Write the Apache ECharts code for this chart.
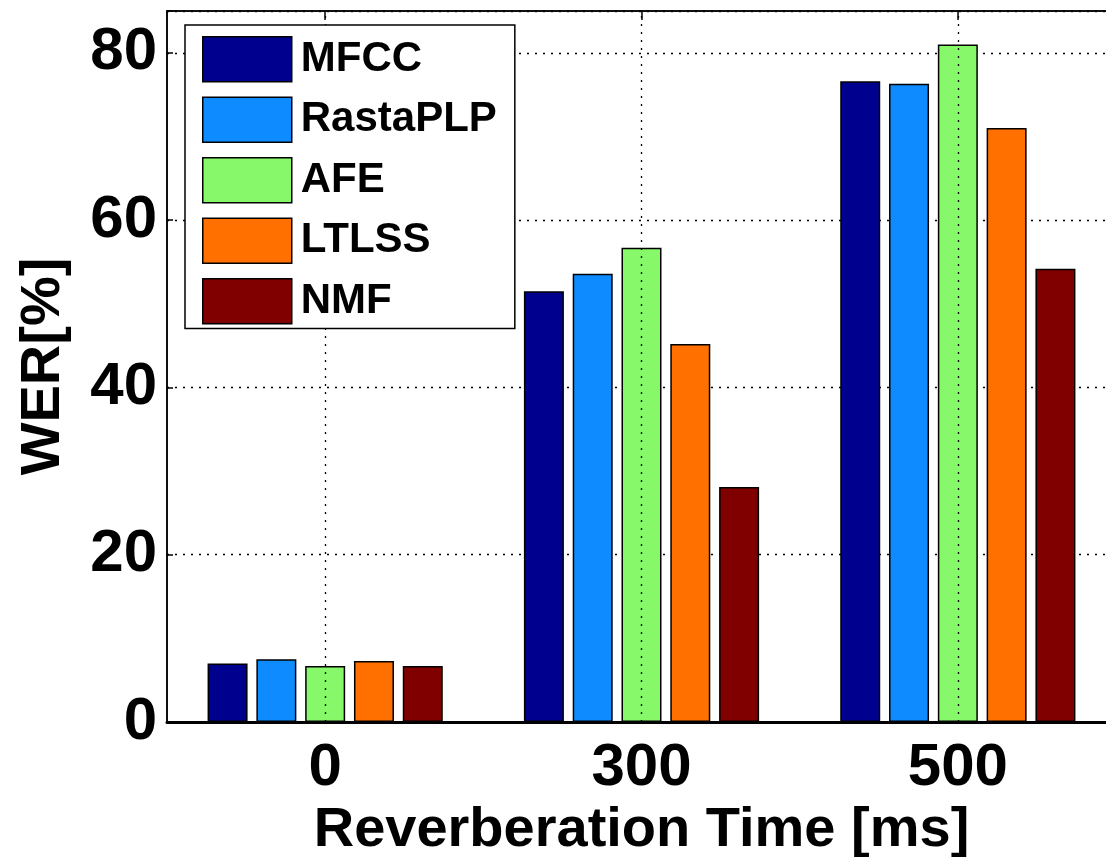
<!DOCTYPE html>
<html>
<head>
<meta charset="utf-8">
<script src="https://cdn.jsdelivr.net/npm/echarts@6/dist/echarts.min.js"></script>
<style>
html,body{margin:0;padding:0;background:#fff;overflow:hidden;}
#chart{width:1106px;height:857px;}
</style>
</head>
<body>
<div id="chart"></div>
<script>
const categories = ['0', '300', '500'];
const seriesNames = ['MFCC', 'RastaPLP', 'AFE', 'LTLSS', 'NMF'];
const mfcc = [7.0, 51.5, 76.6];
const rastaplp = [7.5, 53.6, 76.3];
const afe = [6.7, 56.7, 81.0];
const ltlss = [7.3, 45.2, 71.0];
const nmf = [6.7, 28.1, 54.2];
const yTicks = [0, 20, 40, 60, 80];
const colors = ['#00008F', '#0E8CFF', '#86F86A', '#FF7000', '#800000'];
const allData = [mfcc, rastaplp, afe, ltlss, nmf];

const FONT = '"Liberation Sans", Arial, sans-serif';
const chart = echarts.init(document.getElementById('chart'), null, {renderer: 'canvas'});

const barSeries = seriesNames.map((name, i) => ({
  name: name,
  type: 'bar',
  data: allData[i],
  barWidth: 40,
  barGap: '22%',
  z: 3,
  itemStyle: {color: colors[i], borderColor: '#000', borderWidth: 1.5},
  emphasis: {disabled: true}
}));

const dotted = {color: '#000', type: [2, 6], width: 1.3};

chart.setOption({
  animation: false,
  backgroundColor: '#fff',
  color: colors,
  grid: {
    left: 167, top: 11, width: 949, height: 711,
    outerBoundsMode: 'none', containLabel: false,
    show: true, borderColor: '#000', borderWidth: 1.5, backgroundColor: 'transparent'
  },
  legend: {
    data: seriesNames,
    orient: 'vertical',
    left: 185,
    top: 25,
    itemWidth: 89,
    itemHeight: 45,
    itemGap: 14,
    padding: [11, 18, 4, 17],
    backgroundColor: '#fff',
    borderColor: '#000',
    borderWidth: 1.5,
    icon: 'rect',
    itemStyle: {borderColor: '#000', borderWidth: 1.5},
    textStyle: {fontFamily: FONT, fontWeight: 'bold', fontSize: 42, color: '#000', padding: [0, 0, 0, 4]},
    z: 10
  },
  xAxis: [{
    type: 'category',
    data: categories,
    position: 'bottom',
    name: 'Reverberation Time [ms]',
    nameLocation: 'middle',
    nameGap: 75,
    nameTextStyle: {fontFamily: FONT, fontWeight: 'bold', fontSize: 56, color: '#000'},
    axisLine: {lineStyle: {color: '#000', width: 3}},
    axisTick: {show: false},
    axisLabel: {fontFamily: FONT, fontWeight: 'bold', fontSize: 60, color: '#000', margin: 16},
    splitLine: {show: false}
  }, {
    type: 'category',
    data: categories,
    position: 'top',
    axisLine: {show: true, lineStyle: {color: '#000', width: 1.5}},
    axisTick: {show: true, alignWithLabel: true, inside: true, length: 9, lineStyle: {color: '#000', width: 1.5}},
    axisLabel: {show: false},
    splitLine: {show: false}
  }],
  yAxis: {
    type: 'value',
    min: 0,
    max: 85,
    interval: 20,
    name: 'WER[%]',
    nameLocation: 'middle',
    nameGap: 95,
    nameTextStyle: {fontFamily: FONT, fontWeight: 'bold', fontSize: 56, color: '#000'},
    axisLine: {show: true, lineStyle: {color: '#000', width: 1.5}},
    axisTick: {show: true, inside: true, length: 6, lineStyle: {color: '#000', width: 1.5}},
    axisLabel: {
      fontFamily: FONT, fontWeight: 'bold', fontSize: 60, color: '#000', margin: 10,
      formatter: v => (yTicks.indexOf(v) >= 0 ? String(v) : '')
    },
    splitLine: {show: true, lineStyle: dotted}
  },
  series: [{
    type: 'line',
    data: [],
    z: 1,
    silent: true,
    markLine: {
      silent: true,
      symbol: 'none',
      label: {show: false},
      lineStyle: dotted,
      data: categories.map(c => ({xAxis: c}))
    }
  }].concat(barSeries)
});
</script>
</body>
</html>
